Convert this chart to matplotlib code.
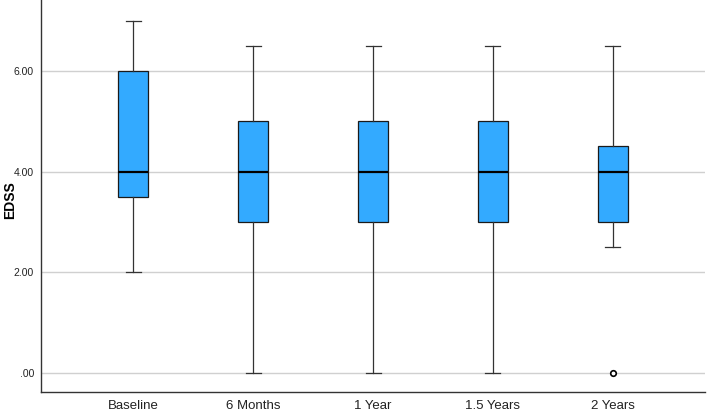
import matplotlib
matplotlib.use("Agg")
import matplotlib.pyplot as plt

plt.rcParams["font.family"] = ["Liberation Sans", "DejaVu Sans"]

# values
groups = ["Baseline", "6 Months", "1 Year", "1.5 Years", "2 Years"]
whislo = [2.0, 0.0, 0.0, 0.0, 2.5]
q1 = [3.5, 3.0, 3.0, 3.0, 3.0]
med = [4.0, 4.0, 4.0, 4.0, 4.0]
q3 = [6.0, 5.0, 5.0, 5.0, 4.5]
whishi = [7.0, 6.5, 6.5, 6.5, 6.5]
outliers = [[], [], [], [], [0.0]]
yticks = [0, 2, 4, 6]
ytick_labels = [".00", "2.00", "4.00", "6.00"]

stats = []
for i, g in enumerate(groups):
    stats.append(dict(label=g, whislo=whislo[i], q1=q1[i], med=med[i],
                      q3=q3[i], whishi=whishi[i], fliers=outliers[i]))

fig = plt.figure(figsize=(7.08, 4.12), dpi=100)
ax = fig.add_axes([0.058, 0.0485, 0.938, 0.9515])

ax.bxp(stats, positions=range(len(groups)), widths=0.25, patch_artist=True,
       showfliers=True,
       boxprops=dict(facecolor="#33aaff", edgecolor="#1a1a1a", linewidth=0.9),
       medianprops=dict(color="black", linewidth=1.6),
       whiskerprops=dict(color="#333333", linewidth=0.9),
       capprops=dict(color="#333333", linewidth=0.9),
       capwidths=0.125,
       flierprops=dict(marker="o", markersize=4, markerfacecolor="white",
                       markeredgecolor="black", markeredgewidth=1.2))

ax.set_xlim(-0.77, 4.77)
ax.set_ylim(-0.38, 7.41)
ax.set_yticks(yticks)
ax.set_yticklabels(ytick_labels, fontsize=7.5)
ax.yaxis.grid(True, color="#d0d0d0", linewidth=1)
ax.set_axisbelow(True)
ax.tick_params(axis="both", length=0)
ax.tick_params(axis="x", labelsize=9.5, pad=6, colors="#222222")
ax.tick_params(axis="y", pad=5, colors="#222222")
for s in ["top", "right"]:
    ax.spines[s].set_visible(False)
for s in ["left", "bottom"]:
    ax.spines[s].set_color("#333333")
    ax.spines[s].set_linewidth(1)
ax.set_ylabel("EDSS", fontsize=10, fontweight="bold", va="center")
ax.yaxis.set_label_coords(-0.046, 0.49)

fig.savefig("out.png", dpi=100)
